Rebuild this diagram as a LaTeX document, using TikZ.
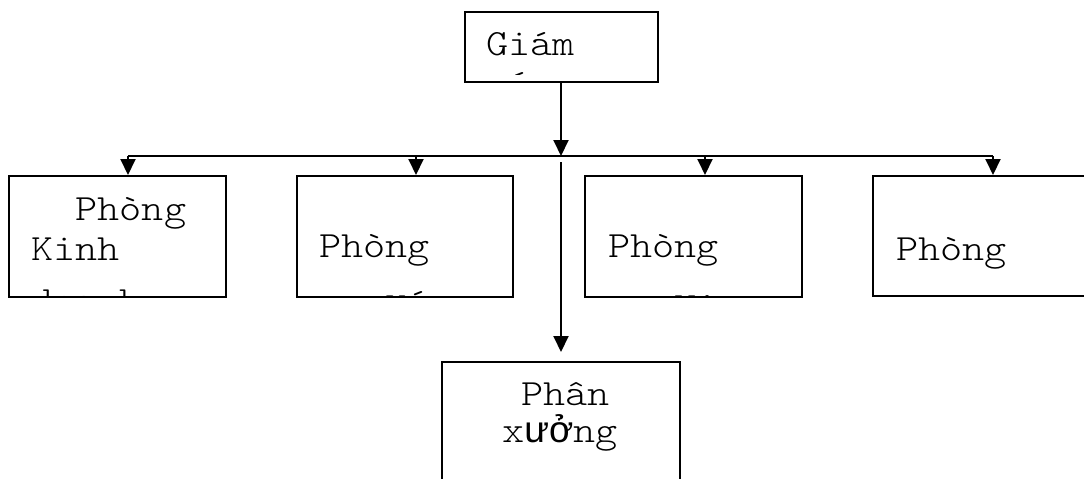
\documentclass[tikz,border=0pt]{standalone}
\usepackage{fontspec}
\setmainfont{Liberation Mono}
\newfontfamily\cour[FakeStretch=1.14]{Latin Modern Mono Light}
\newfontfamily\sansvn{Liberation Sans}
\usetikzlibrary{arrows.meta}
\tikzset{
  box/.style={draw, line width=2pt, rectangle, inner sep=0pt, fill=white},
  txt/.style={anchor=base west, inner sep=0pt, font=\cour\fontsize{37}{41}\selectfont},
  link/.style={line width=2pt},
  arr/.style={line width=2pt, -{Triangle[width=15pt,length=16pt]}}
}
\begin{document}
\begin{tikzpicture}[x=1pt,y=-1pt]
\clip (0,0) rectangle (1084,479);
\fill[white] (0,0) rectangle (1084,479);
% boxes
\node[box, minimum width=193pt, minimum height=70pt] (top) at (561,47) {};
\node[box, minimum width=217pt, minimum height=121pt] (b1) at (117.5,236.5) {};
\node[box, minimum width=216pt, minimum height=121pt] (b2) at (405,236.5) {};
\node[box, minimum width=217pt, minimum height=121pt] (b3) at (693.5,236.5) {};
\node[box, minimum width=217pt, minimum height=120pt] (b4) at (981.5,236) {};
\node[box, minimum width=238pt, minimum height=130pt] (b5) at (561,427) {};
% connectors
\coordinate (jn) at (561,156);
\coordinate (hL) at (128,156);
\coordinate (hR) at (993,156);
\coordinate (a2) at (416,156);
\coordinate (a3) at (705,156);
\coordinate (vs) at (561,162);
\draw[arr] (top.south) -- (jn);
\draw[link] (hL) -- (hR);
\draw[arr] (hL) -- (hL |- b1.north);
\draw[arr] (a2) -- (a2 |- b2.north);
\draw[arr] (a3) -- (a3 |- b3.north);
\draw[arr] (hR) -- (hR |- b4.north);
\draw[arr, shorten >=9pt] (vs) -- (b5.north);
% texts
\node[txt] (t0) at (486,55) {Giám};
\node[txt] (t1a) at (31,220) {~~Phòng};
\node[txt] (t1b) at (31,260) {Kinh};
\node[txt] (t2a) at (319,257) {Phòng};
\node[txt] (t3a) at (608,257) {Phòng};
\node[txt] (t4a) at (896,260) {Phòng};
\node[txt] (t5a) at (521,405) {Phân};
\node[txt] (t5b) at (502,442) {x{\sansvn ưở}ng};
% clipped second lines
\begin{scope}
\clip ([yshift=-2pt]top.north west) rectangle ([yshift=9pt]top.south east);
\node[txt] (t0b) at (486,99) {đốc};
\end{scope}
\begin{scope}
\clip ([yshift=-2pt]b1.north west) rectangle ([yshift=1pt]b1.south east);
\node[txt] (t1c) at (31,312) {doanh};
\end{scope}
\begin{scope}
\clip ([yshift=-2pt]b2.north west) rectangle ([yshift=1pt]b2.south east);
\node[txt] (t2b) at (319,318) {~~~Kế};
\end{scope}
\begin{scope}
\clip ([yshift=-2pt]b3.north west) rectangle ([yshift=1pt]b3.south east);
\node[txt] (t3b) at (608,318) {~~~Vật};
\end{scope}
\end{tikzpicture}
\end{document}
